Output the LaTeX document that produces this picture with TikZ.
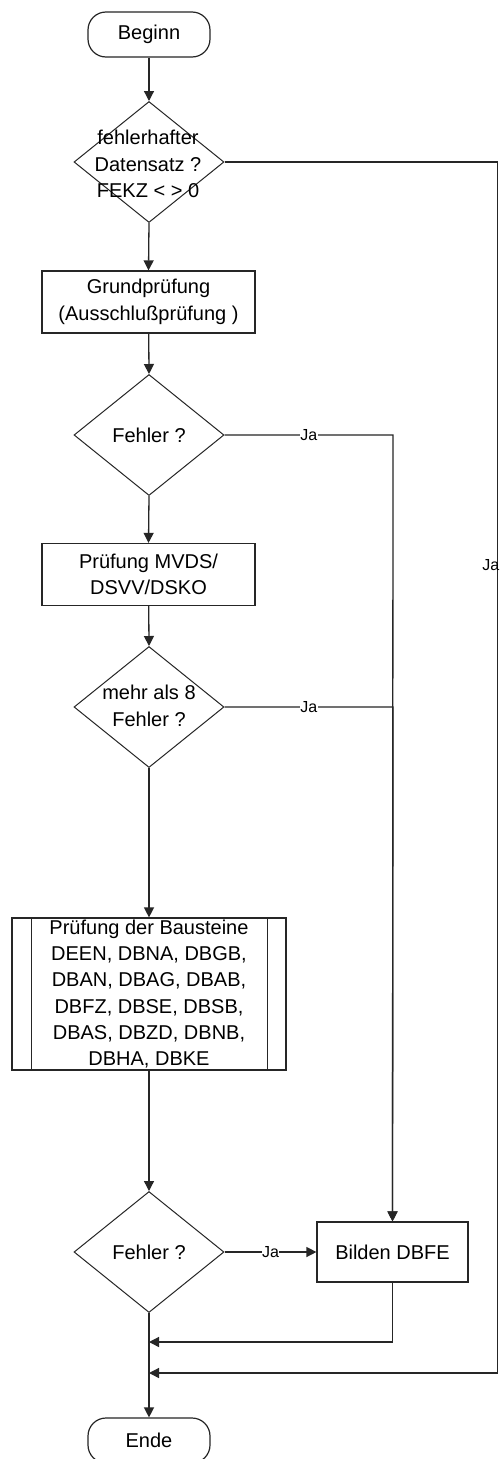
\documentclass[tikz,border=0pt]{standalone}
\usepackage{fontspec}
\setmainfont{Liberation Sans}
\usetikzlibrary{shapes.geometric,arrows.meta,calc}
\begin{document}
\begin{tikzpicture}[x=1pt,y=-1pt,
  every node/.style={font=\fontsize{20}{26.5}\selectfont},
  ln/.style={draw=black!85,line width=1.3pt},
  arr/.style={ln,-{Triangle[length=10pt,width=10pt]}},
  term/.style={draw=black!85,line width=1.2pt,rounded corners=18pt,minimum width=122pt,minimum height=45pt,inner sep=0pt},
  dia/.style={draw=black!85,line width=1pt,diamond,minimum width=150pt,minimum height=121pt,inner sep=0pt},
  proc/.style={draw=black!85,line width=1.2pt,rectangle,minimum width=213pt,minimum height=62pt,inner sep=0pt,align=center},
  ja/.style={fill=white,inner sep=0.5pt,font=\fontsize{16}{18}\selectfont}
]
\useasboundingbox (0,0) rectangle (500,1459);
\fill[white] (0,0) rectangle (500,1459);

\node[term] (beg) at (149,34.5) {Beginn};
\node[dia] (d1) at (149,162) {};
\node[align=center] (d1t) at (148,164) {fehlerhafter\\Datensatz ?\\FEKZ < > 0};
\node[proc] (b1) at (148.5,302) {Grundprüfung\\(Ausschlußprüfung )};
\node[dia] (d2) at (149,435) {};
\node (d2t) at (149,435) {Fehler ?};
\node[proc] (b2) at (148.5,574.5) {Prüfung MVDS/\\DSVV/DSKO};
\node[dia] (d3) at (149,707) {};
\node[align=center] (d3t) at (149,706) {mehr als 8\\Fehler ?};
\node[proc,minimum width=274pt,minimum height=152pt] (b4) at (149,994) {};
\node[align=center,font=\fontsize{20}{26.2}\selectfont] (b4t) at (149,994) {Prüfung der Bausteine\\DEEN, DBNA, DBGB,\\DBAN, DBAG, DBAB,\\DBFZ, DBSE, DBSB,\\DBAS, DBZD, DBNB,\\DBHA, DBKE};
\draw[ln] ($(b4.north west)+(20,0)$) coordinate (b4a) -- ($(b4.south west)+(20,0)$) coordinate (b4b);
\draw[ln] ($(b4.north east)+(-19,0)$) coordinate (b4c) -- ($(b4.south east)+(-19,0)$) coordinate (b4d);
\node[dia] (d4) at (149,1252) {};
\node (d4t) at (149,1252) {Fehler ?};
\node[proc,minimum width=151pt,minimum height=60pt] (b5) at (392.5,1252) {Bilden DBFE};
\node[term] (end) at (149,1440.5) {Ende};

\coordinate (jx) at (393,0);
\coordinate (rx) at (497.5,0);
\coordinate (m1) at (149,1342);
\coordinate (m2) at (149,1373);

\draw[arr] (beg) -- (d1.north);
\draw[arr] (d1.south) -- (b1.north);
\draw[arr] (b1) -- (d2.north);
\draw[arr] (d2.south) -- (b2.north);
\draw[arr] (b2) -- (d3.north);
\draw[arr] (d3.south) -- (b4.north);
\draw[arr] (b4) -- (d4.north);
\draw[ln] (d4.south) -- (m1) -- (m2);
\draw[arr] (m2) -- (end.north);

\draw[arr] (d2.east) -- node[ja,pos=0.5]{Ja} (d2.east -| jx) -- (b5.north);
\draw[arr] (d3.east) -- node[ja,pos=0.5]{Ja} (d3.east -| jx) -- (b5.north);
\draw[arr] (d4.east) -- node[ja,pos=0.5]{Ja} (b5.west);
\draw[arr] (b5.south) |- (m1);
\draw[arr] (d1.east) -- (d1.east -| rx) -- coordinate[pos=0.333] (jr) (m2 -| rx) -- (m2);
\node[ja,anchor=east,fill=none] (jrl) at ($(jr)+(2.5,0)$) {Ja};
\end{tikzpicture}
\end{document}
